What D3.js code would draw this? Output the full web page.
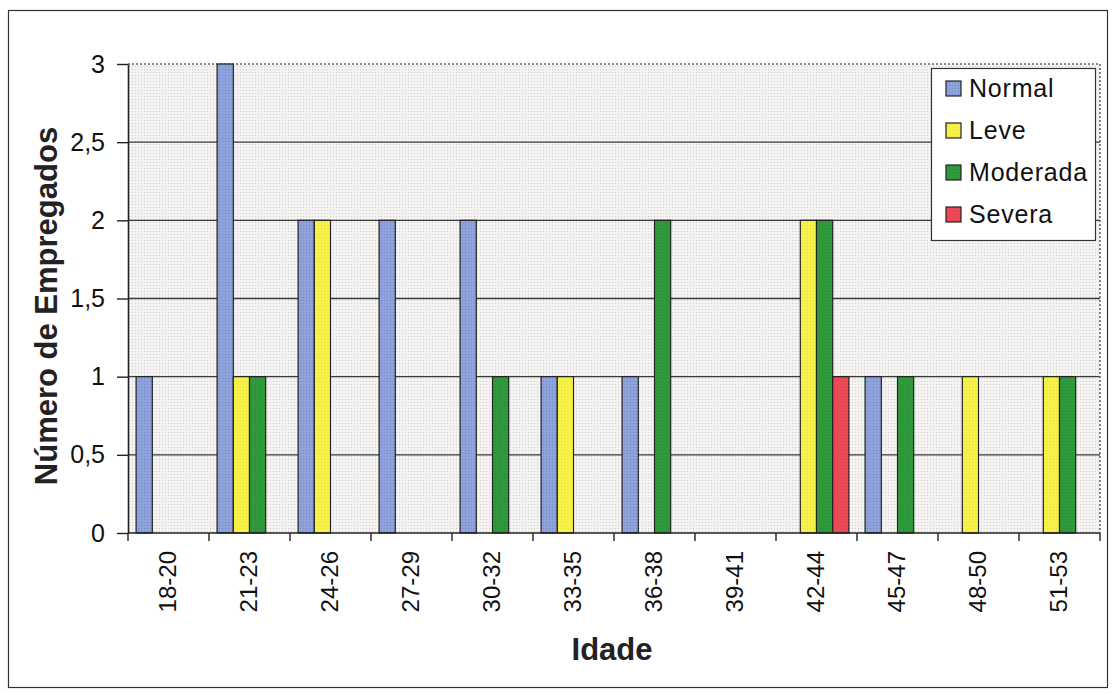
<!DOCTYPE html>
<html>
<head>
<meta charset="utf-8">
<script src="https://cdn.jsdelivr.net/npm/d3@7"></script>
<style>
  html, body { margin: 0; padding: 0; background: #fff; }
  svg { display: block; font-family: "Liberation Sans", Arial, sans-serif; }
</style>
</head>
<body>
<svg id="chart" width="1112" height="693"></svg>
<script>
// Age groups on the x axis
const categories = ["18-20", "21-23", "24-26", "27-29", "30-32", "33-35", "36-38", "39-41", "42-44", "45-47", "48-50", "51-53"];
// Severity classes (legend order)
const seriesNames = ["Normal", "Leve", "Moderada", "Severa"];
// Number of employees per age group, one array per class
const normal   = [1, 3, 2, 2, 2, 1, 1, 0, 0, 1, 0, 0];
const leve     = [0, 1, 2, 0, 0, 1, 0, 0, 2, 0, 1, 1];
const moderada = [0, 1, 0, 0, 1, 0, 2, 0, 2, 1, 0, 1];
const severa   = [0, 0, 0, 0, 0, 0, 0, 0, 1, 0, 0, 0];
// Y axis ticks and their printed labels
const yTicks = [0, 0.5, 1, 1.5, 2, 2.5, 3];
const yTickLabels = ["0", "0,5", "1", "1,5", "2", "2,5", "3"];

const seriesValues = [normal, leve, moderada, severa];
const colors = ["#8ea3dc", "#f7f24a", "#2f9a3c", "#ee4a55"];

const svg = d3.select("#chart");

// Outer chart frame
svg.append("rect")
  .attr("x", 8.5).attr("y", 10.5).attr("width", 1099).attr("height", 677)
  .attr("fill", "#fff").attr("stroke", "#333").attr("stroke-width", 1.2);

const plot = { left: 128, right: 1100, top: 64, bottom: 533 };

// Stippled plot background
const defs = svg.append("defs");
const pat = defs.append("pattern")
  .attr("id", "stipple").attr("patternUnits", "userSpaceOnUse")
  .attr("width", 3).attr("height", 3);
pat.append("rect").attr("width", 3).attr("height", 3).attr("fill", "#f5f3f1");
pat.append("rect").attr("x", 0).attr("y", 0).attr("width", 1).attr("height", 1).attr("fill", "#cfcfcf");

const barPat = (id, base, dot) => {
  const p = defs.append("pattern")
    .attr("id", id).attr("patternUnits", "userSpaceOnUse")
    .attr("width", 3).attr("height", 3);
  p.append("rect").attr("width", 3).attr("height", 3).attr("fill", base);
  p.append("rect").attr("x", 0).attr("y", 0).attr("width", 1).attr("height", 1).attr("fill", dot);
};
barPat("fill0", colors[0], "#7389c6");
barPat("fill1", colors[1], "#e8e236");
barPat("fill2", colors[2], "#268a33");
barPat("fill3", colors[3], "#df3c48");

svg.append("rect")
  .attr("x", plot.left).attr("y", plot.top)
  .attr("width", plot.right - plot.left).attr("height", plot.bottom - plot.top)
  .attr("fill", "url(#stipple)");

// Scales
const x0 = d3.scaleBand().domain(categories).range([plot.left, plot.right]).padding(0);
const bw = x0.bandwidth();
const x1 = d3.scaleBand().domain(seriesNames).range([bw * 0.1, bw * 0.9]).padding(0);
const y = d3.scaleLinear().domain([0, 3]).range([plot.bottom, plot.top]);

// Horizontal gridlines
svg.append("g")
  .selectAll("line")
  .data(yTicks.filter(t => t > 0 && t < 3))
  .join("line")
  .attr("x1", plot.left).attr("x2", plot.right)
  .attr("y1", d => y(d)).attr("y2", d => y(d))
  .attr("stroke", "#3a3a3a").attr("stroke-width", 1.3);

// Dotted plot border (top and right)
svg.append("path")
  .attr("d", `M${plot.left},${y(3)}H${plot.right}V${plot.bottom}`)
  .attr("fill", "none").attr("stroke", "#666").attr("stroke-width", 1.6)
  .attr("stroke-dasharray", "2,2");

// Bars
const barData = [];
categories.forEach((c, i) => {
  seriesNames.forEach((s, j) => {
    const v = seriesValues[j][i];
    if (v > 0) barData.push({ c, s, v, j });
  });
});
svg.append("g")
  .selectAll("rect")
  .data(barData)
  .join("rect")
  .attr("x", d => x0(d.c) + x1(d.s))
  .attr("y", d => y(d.v))
  .attr("width", x1.bandwidth())
  .attr("height", d => y(0) - y(d.v))
  .attr("fill", d => `url(#fill${d.j})`)
  .attr("stroke", "#222").attr("stroke-width", 1.2);

// Y axis
const yAxis = d3.axisLeft(y)
  .tickValues(yTicks)
  .tickFormat((d, i) => yTickLabels[i])
  .tickSizeInner(11).tickSizeOuter(0).tickPadding(12);
const gy = svg.append("g").attr("transform", `translate(${plot.left},0)`).call(yAxis);
gy.select(".domain").attr("stroke", "#222").attr("stroke-width", 1.6);
gy.selectAll(".tick line").attr("stroke", "#222").attr("stroke-width", 1.4);
gy.selectAll(".tick text")
  .attr("font-size", 25).attr("fill", "#111")
  .attr("font-family", "'Liberation Sans', Arial, sans-serif");

// X axis: ticks at category boundaries
const gx = svg.append("g").attr("transform", `translate(0,${plot.bottom})`);
gx.append("line")
  .attr("x1", plot.left).attr("x2", plot.right)
  .attr("stroke", "#222").attr("stroke-width", 1.6);
gx.selectAll("line.tk")
  .data(categories.concat(["end"]))
  .join("line").attr("class", "tk")
  .attr("x1", (d, i) => i < categories.length ? x0(d) : plot.right)
  .attr("x2", (d, i) => i < categories.length ? x0(d) : plot.right)
  .attr("y1", 0).attr("y2", 8)
  .attr("stroke", "#222").attr("stroke-width", 1.4);
gx.selectAll("text")
  .data(categories)
  .join("text")
  .attr("transform", d => `translate(${x0(d) + bw / 2 - 1},18) rotate(-90)`)
  .attr("text-anchor", "end")
  .attr("dy", "0.35em")
  .attr("font-size", 24).attr("fill", "#111")
  .text(d => d);

// Axis titles
svg.append("text")
  .attr("transform", "translate(57,306) rotate(-90)")
  .attr("text-anchor", "middle")
  .attr("font-size", 31).attr("font-weight", "bold").attr("fill", "#222")
  .text("Número de Empregados");
svg.append("text")
  .attr("x", 612).attr("y", 660)
  .attr("text-anchor", "middle")
  .attr("font-size", 31).attr("font-weight", "bold").attr("fill", "#222")
  .text("Idade");

// Legend
const lg = svg.append("g");
lg.append("rect")
  .attr("x", 931.5).attr("y", 68.5).attr("width", 164).attr("height", 172)
  .attr("fill", "#fff").attr("stroke", "#333").attr("stroke-width", 1.2);
const items = lg.selectAll("g.item")
  .data(seriesNames)
  .join("g").attr("class", "item")
  .attr("transform", (d, i) => `translate(946,${88 + i * 42})`);
items.append("rect")
  .attr("x", 0).attr("y", -7).attr("width", 15).attr("height", 15)
  .attr("fill", (d, i) => `url(#fill${i})`)
  .attr("stroke", "#222").attr("stroke-width", 1.2);
items.append("text")
  .attr("x", 23).attr("y", 0).attr("dy", "0.36em")
  .attr("font-size", 25).attr("letter-spacing", 0.8).attr("fill", "#111")
  .text(d => d);
</script>
</body>
</html>
